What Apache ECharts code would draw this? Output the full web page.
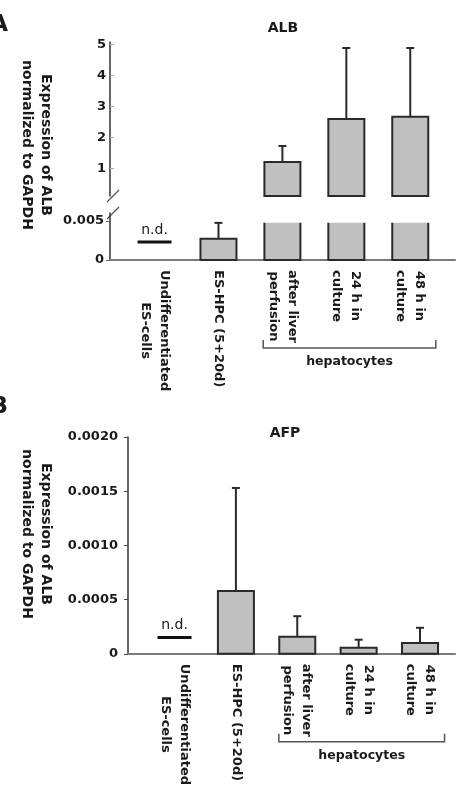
<!DOCTYPE html>
<html><head><meta charset="utf-8">
<script src="https://cdn.jsdelivr.net/npm/echarts@6/dist/echarts.min.js"></script>
<style>html,body{margin:0;padding:0;background:#fff}#c{width:462px;height:788px}</style>
</head><body><div id="c"></div>
<script>
// ---- data ----
const categories = ['Undifferentiated\nES-cells', 'ES-HPC (5+20d)', 'after liver\nperfusion', '24 h in\nculture', '48 h in\nculture'];
const notDetected = [true, false, false, false, false];
const albMean = [null, 0.0027, 1.21, 2.6, 2.67];
const albSD   = [null, 0.00204, 0.52, 2.29, 2.22];
const afpMean = [null, 0.00058, 0.000157, 0.000055, 0.0001];
const afpSD   = [null, 0.00095, 0.00019, 0.000075, 0.00014];
const albLowTicks = [0, 0.005];
const albLowLabels = ['0', '0.005'];
const albHighTicks = [1, 2, 3, 4, 5];
const albHighLabels = ['1', '2', '3', '4', '5'];
const afpTicks = [0, 0.0005, 0.001, 0.0015, 0.002];
const afpLabels = ['0', '0.0005', '0.0010', '0.0015', '0.0020'];
const groupLabel = 'hepatocytes';
const groupMembers = [2, 3, 4];
const yTitle = 'Expression of ALB\nnormalized to GAPDH';

// ---- style / layout ----
const FONT = 'DejaVu Sans';
const INK = '#1a1a1a';
const FILL = '#c0c0c0';
const EDGE = '#2a2a2a';
const BAR_W = 36, CAP_W = 8;
const A_LOW_MAX = 0.006, A_LOW_CUT = 0.00475, A_HIGH_MIN = 0.116, A_HIGH_MAX = 5.084;
const XA = [-0.697, 4.70], XB = [-0.758, 4.57];
const ND_A = 0.0023, ND_B = 0.00015;

const chart = echarts.init(document.getElementById('c'));

function catLabel(v) {
  const s = categories[Math.round(v)];
  return s.split('\n').map(l => '{c|' + l + '}').join('\n');
}
function tickFmt(ticks, labels) {
  return v => { const k = ticks.indexOf(v); return k >= 0 ? labels[k] : ''; };
}
const labelFont = {fontFamily: FONT, fontWeight: 'bold', fontSize: 13, color: INK};

function barParts(api, i, v, sd, baseVal) {
  const base = api.coord([i, baseVal]);
  const top = api.coord([i, v]);
  const parts = [];
  if (sd != null && !isNaN(sd)) {
    const e = api.coord([i, v + sd]);
    parts.push({type: 'line', shape: {x1: base[0], y1: top[1], x2: base[0], y2: e[1]}, style: {stroke: EDGE, lineWidth: 2}});
    parts.push({type: 'line', shape: {x1: base[0] - CAP_W / 2, y1: e[1], x2: base[0] + CAP_W / 2, y2: e[1]}, style: {stroke: EDGE, lineWidth: 2}});
  }
  parts.push({type: 'rect', shape: {x: base[0] - BAR_W / 2, y: top[1], width: BAR_W, height: base[1] - top[1]},
    style: {fill: FILL, stroke: EDGE, lineWidth: 2}});
  return parts;
}

function renderLowA(params, api) {
  const i = api.value(0), v = api.value(1), sd = api.value(2);
  if (v > A_LOW_MAX) {
    const base = api.coord([i, 0]), cut = api.coord([i, A_LOW_CUT]);
    const x0 = base[0] - BAR_W / 2, x1 = base[0] + BAR_W / 2;
    return {type: 'group', children: [
      {type: 'rect', shape: {x: x0, y: cut[1], width: BAR_W, height: base[1] - cut[1]}, style: {fill: FILL}},
      {type: 'polyline', shape: {points: [[x0, cut[1]], [x0, base[1]], [x1, base[1]], [x1, cut[1]]]},
        style: {stroke: EDGE, lineWidth: 2, fill: 'none'}}
    ]};
  }
  return {type: 'group', children: barParts(api, i, v, sd, 0)};
}
function renderHighA(params, api) {
  const i = api.value(0), v = api.value(1), sd = api.value(2);
  if (!(v > A_LOW_MAX)) return null;
  return {type: 'group', children: barParts(api, i, v, sd, A_HIGH_MIN)};
}
function renderB(params, api) {
  return {type: 'group', children: barParts(api, api.value(0), api.value(1), api.value(2), 0)};
}
function renderND(params, api) {
  const p = api.coord([api.value(0), api.value(1)]);
  return {type: 'group', children: [
    {type: 'line', shape: {x1: p[0] - BAR_W / 2 + 1, y1: p[1], x2: p[0] + BAR_W / 2 - 1, y2: p[1]}, style: {stroke: '#111', lineWidth: 3}},
    {type: 'text', x: p[0], y: p[1] - 12, style: {text: 'n.d.', align: 'center', verticalAlign: 'middle',
      fontFamily: FONT, fontSize: 14, fill: INK}}
  ]};
}

const albData = categories.map((c, i) => [i, albMean[i], albSD[i]]).filter(d => d[1] != null);
const afpData = categories.map((c, i) => [i, afpMean[i], afpSD[i]]).filter(d => d[1] != null);
const ndDataA = categories.map((c, i) => [i, ND_A]).filter((d, i) => notDetected[i]);
const ndDataB = categories.map((c, i) => [i, ND_B]).filter((d, i) => notDetected[i]);

const xCat = (extent) => ({
  type: 'value', min: extent[0], max: extent[1],
  axisLine: {show: true, onZero: false, lineStyle: {color: '#7a7a7a', width: 2}},
  axisTick: {show: false}, splitLine: {show: false},
  axisLabel: Object.assign({customValues: [0, 1, 2, 3, 4], formatter: catLabel, rotate: -90, margin: 10,
    rich: {c: Object.assign({align: 'center', lineHeight: 19}, labelFont)}}, labelFont)
});

const option = {
  animation: false,
  backgroundColor: '#fff',
  grid: [
    {left: 110, top: 42, width: 345, height: 154},
    {left: 110, top: 213, width: 345, height: 47},
    {left: 128, top: 437, width: 327, height: 217}
  ],
  xAxis: [
    {gridIndex: 0, type: 'value', min: XA[0], max: XA[1], show: false},
    Object.assign({gridIndex: 1}, xCat(XA)),
    Object.assign({gridIndex: 2}, xCat(XB))
  ],
  yAxis: [
    {gridIndex: 0, type: 'value', min: A_HIGH_MIN, max: A_HIGH_MAX,
      axisLine: {show: true, onZero: false, lineStyle: {color: '#333', width: 1.5}},
      axisTick: {show: true, inside: true, length: 4, customValues: albHighTicks, lineStyle: {color: '#aaa'}},
      axisLabel: Object.assign({customValues: albHighTicks, formatter: tickFmt(albHighTicks, albHighLabels), margin: 4}, labelFont),
      splitLine: {show: false}},
    {gridIndex: 1, type: 'value', min: 0, max: A_LOW_MAX,
      axisLine: {show: true, onZero: false, lineStyle: {color: '#333', width: 1.5}},
      axisTick: {show: true, length: 4, customValues: albLowTicks, lineStyle: {color: '#666'}},
      axisLabel: Object.assign({customValues: albLowTicks, formatter: tickFmt(albLowTicks, albLowLabels), margin: 6}, labelFont),
      splitLine: {show: false}},
    {gridIndex: 2, type: 'value', min: 0, max: 0.002,
      axisLine: {show: true, onZero: false, lineStyle: {color: '#333', width: 1.5}},
      axisTick: {show: true, length: 4, customValues: afpTicks, lineStyle: {color: '#444'}},
      axisLabel: Object.assign({customValues: afpTicks, formatter: tickFmt(afpTicks, afpLabels), margin: 10}, labelFont),
      splitLine: {show: false}}
  ],
  series: [
    {type: 'custom', name: 'ALB low', xAxisIndex: 1, yAxisIndex: 1, data: albData, renderItem: renderLowA, encode: {x: 0, y: 1}},
    {type: 'custom', name: 'ALB high', xAxisIndex: 0, yAxisIndex: 0, data: albData, renderItem: renderHighA, encode: {x: 0, y: 1}},
    {type: 'custom', name: 'AFP', xAxisIndex: 2, yAxisIndex: 2, data: afpData, renderItem: renderB, encode: {x: 0, y: 1}},
    {type: 'custom', name: 'n.d. A', xAxisIndex: 1, yAxisIndex: 1, data: ndDataA, renderItem: renderND, encode: {x: 0, y: 1}},
    {type: 'custom', name: 'n.d. B', xAxisIndex: 2, yAxisIndex: 2, data: ndDataB, renderItem: renderND, encode: {x: 0, y: 1}}
  ]
};
chart.setOption(option);

// ---- decorations positioned from the axes ----
const g = [];
const txt = (x, y, text, extra) => ({type: 'text', x: x, y: y, style: Object.assign({text: text, fill: INK, fontFamily: FONT,
  fontWeight: 'bold', fontSize: 14, align: 'center', verticalAlign: 'middle'}, extra || {})});
g.push(txt(8, 25, 'A', {fontSize: 23, align: 'right'}));
g.push(txt(8, 407, 'B', {fontSize: 23, align: 'right'}));
g.push(txt(283, 28, 'ALB', {fontSize: 14}));
g.push(txt(285, 433, 'AFP', {fontSize: 14}));
const yt1 = txt(36.5, 145, yTitle, {lineHeight: 19}); yt1.rotation = -Math.PI / 2; g.push(yt1);
const yt2 = txt(36.5, 534, yTitle, {lineHeight: 19}); yt2.rotation = -Math.PI / 2; g.push(yt2);

// axis break marks
const pBreakHigh = chart.convertToPixel({gridIndex: 0}, [XA[0], A_HIGH_MIN]);
const pBreakLow = chart.convertToPixel({gridIndex: 1}, [XA[0], A_LOW_MAX]);
[pBreakHigh, pBreakLow].forEach(p => {
  g.push({type: 'line', shape: {x1: p[0] - 3, y1: p[1] + 6, x2: p[0] + 9, y2: p[1] - 6}, style: {stroke: '#555', lineWidth: 1.2}});
});

// group brackets
function bracket(gridIndex, xMin, xMax) {
  const l = chart.convertToPixel({gridIndex: gridIndex}, [groupMembers[0] - 0.3, 0]);
  const r = chart.convertToPixel({gridIndex: gridIndex}, [groupMembers[groupMembers.length - 1] + 0.4, 0]);
  const y = l[1] + 88;
  g.push({type: 'polyline', shape: {points: [[l[0], y - 8], [l[0], y], [r[0], y], [r[0], y - 8]]},
    style: {stroke: '#555', lineWidth: 1.5, fill: 'none'}});
  g.push(txt((l[0] + r[0]) / 2, y + 14, groupLabel, {fontSize: 12.5}));
}
bracket(1);
bracket(2);

chart.setOption({graphic: g});
</script>
</body></html>
